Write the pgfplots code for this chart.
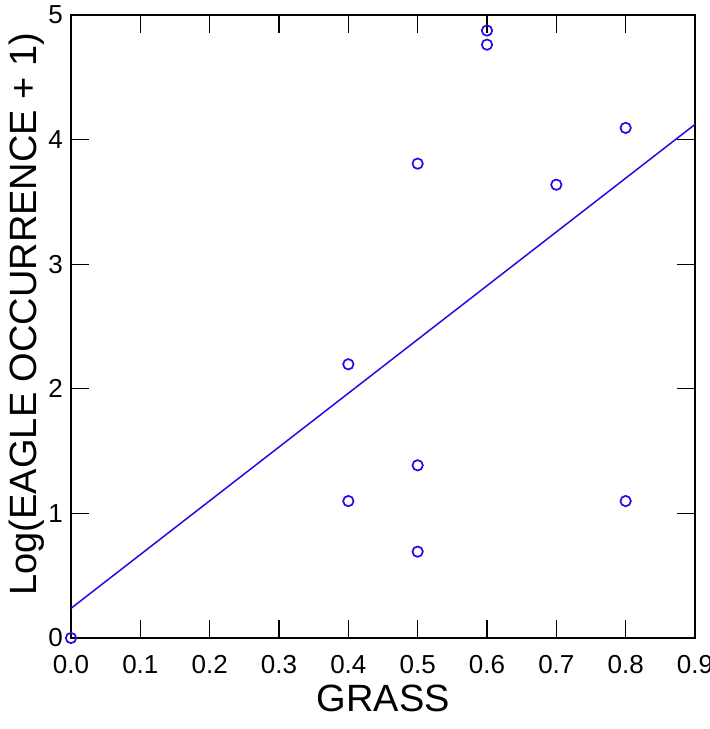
\documentclass[border=0pt]{standalone}
\usepackage{fontspec}
\setmainfont{Liberation Sans}
\usepackage{pgfplots}
\pgfplotsset{compat=1.18}
\definecolor{ptblue}{RGB}{35,10,230}
\begin{document}
\begin{tikzpicture}
\begin{axis}[
  scale only axis,
  width=624pt, height=623pt,
  xmin=0, xmax=0.9, ymin=0, ymax=5,
  axis line style={line width=1.1pt, black},
  xtick={0,0.1,...,0.9},
  ytick={0,1,2,3,4,5},
  tick align=inside,
  major tick length=18pt,
  tick style={line width=1.1pt, black},
  xtick pos=both, ytick pos=both,
  xticklabel pos=bottom, yticklabel pos=left,
  /pgf/number format/assume math mode=true,
  xticklabel style={/pgf/number format/.cd, fixed, fixed zerofill, precision=1, /tikz/.cd, font=\fontsize{26}{31}\selectfont, inner sep=0pt, yshift=-17pt},
  yticklabel style={font=\fontsize{26}{31}\selectfont, inner sep=0pt, xshift=-8pt},
  clip=false,
]
\addplot[only marks, mark=o, mark size=5.2pt, mark options={ptblue, line width=1.7pt}] coordinates {
  (0,0) (0.4,2.197) (0.4,1.099) (0.5,3.807) (0.5,1.386) (0.5,0.693)
  (0.6,4.875) (0.6,4.762) (0.7,3.638) (0.8,4.094) (0.8,1.099)
};
\addplot[ptblue, line width=1.5pt] coordinates {(0,0.238) (0.9,4.122)};
\end{axis}
\node[rotate=90, anchor=base, font=\fontsize{38}{45}\selectfont] at (-34pt,324pt) {Log(EAGLE OCCURRENCE + 1)};
\node[anchor=base, font=\fontsize{38}{45}\selectfont] at (312.5pt,-73pt) {GRASS};
\pgfresetboundingbox
\path[use as bounding box] (-71pt,-91pt) rectangle (639pt,638pt);
\end{tikzpicture}
\end{document}
